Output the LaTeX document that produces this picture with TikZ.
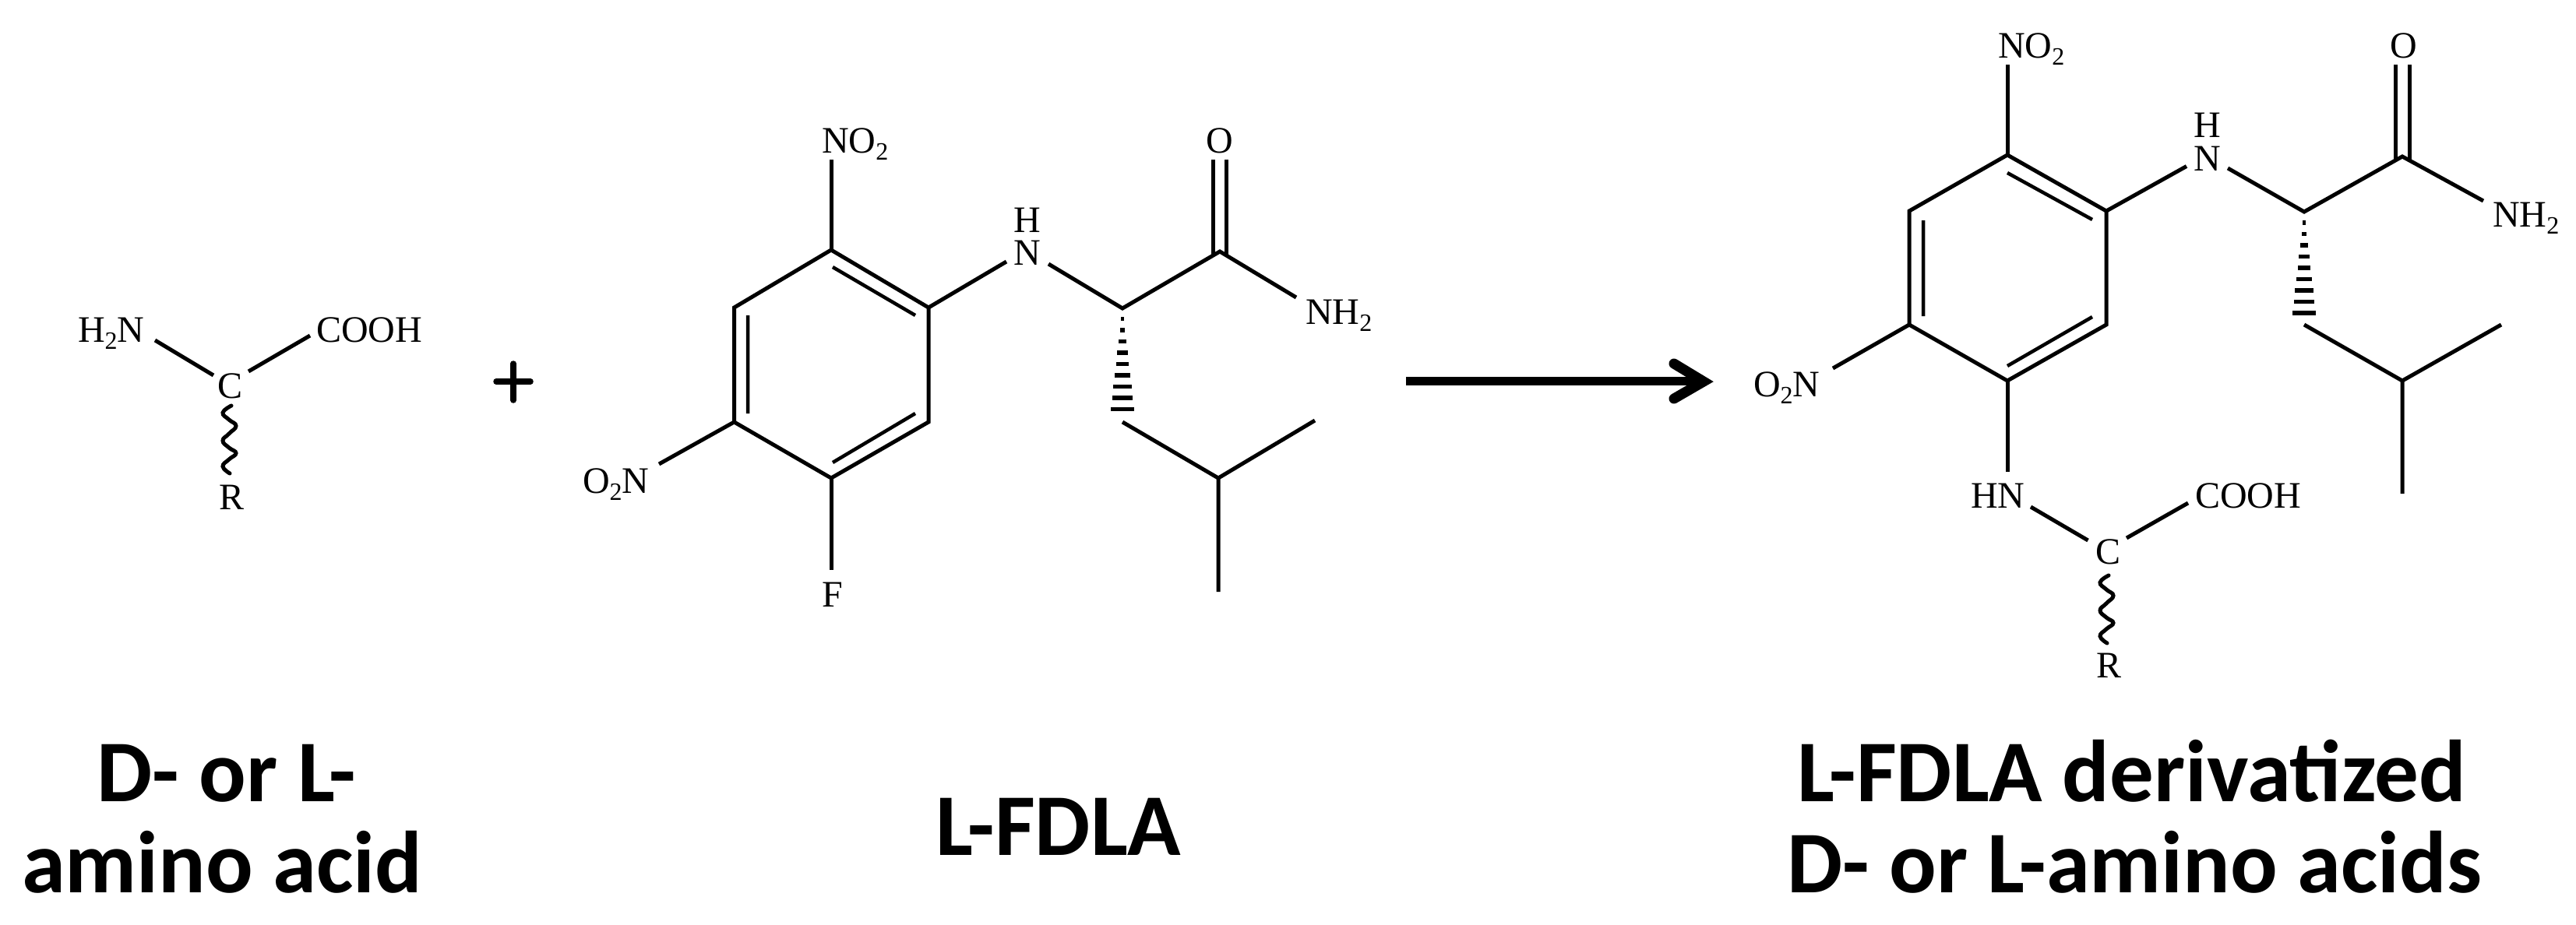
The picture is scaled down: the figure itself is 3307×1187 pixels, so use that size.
\documentclass[tikz,border=0pt]{standalone}
\usepackage{fontspec}
\setmainfont{Liberation Serif}
\newfontfamily\capfont{Carlito}
\newcommand{\sbb}[1]{\raisebox{-9pt}{\fontsize{32}{32}\selectfont #1}}
\newcommand{\wavybond}[2]{\begin{scope}[shift={(#1,#2)}]
\draw[bond,line cap=round] plot[smooth,tension=0.8] coordinates {(297,521)(286,530)(294,539)(303,547)(294,557)(286,566)(294,575)(303,582)(294,590)(286,599)(295,608)};
\end{scope}}
\newcommand{\hashbond}[5]{% apex x, apex y, first bar y, spacing, half-width slope
\foreach \i in {0,...,8}{
\pgfmathsetmacro{\yy}{#3+#4*\i}
\pgfmathsetmacro{\hw}{(\yy-#2)*#5}
\fill (#1-\hw,\yy-2.8) rectangle (#1+\hw,\yy+2.8);
}}
\tikzset{
 x=1pt,y=-1pt,
 bond/.style={line width=5pt,line cap=butt,line join=miter},
 thinbond/.style={line width=4.5pt,line cap=butt},
 chem/.style={inner sep=0pt,outer sep=0pt,font=\fontsize{48}{48}\selectfont},
 biglabel/.style={inner sep=0pt,outer sep=0pt,anchor=base,font=\capfont\bfseries\fontsize{113}{117}\selectfont},
}
\begin{document}
\begin{tikzpicture}
\useasboundingbox (0,0) rectangle (3307,1187);
% ---------- amino acid ----------
\node[chem,anchor=base west] (aN) at (100,439) {H\sbb{2}N};
\node[chem,anchor=base west] (aCOOH) at (406,439) {COOH};
\node[chem,anchor=base] (aC) at (296,511) {C};
\node[chem,anchor=base] (aR) at (298,654) {R};
\coordinate (a1) at (199,437); \coordinate (a2) at (274,482);
\coordinate (a3) at (319,477); \coordinate (a4) at (398,431);
\draw[bond] (a1) -- (a2);
\draw[bond] (a3) -- (a4);
\wavybond{0}{0}
% ---------- plus ----------
\coordinate (p1) at (637,490); \coordinate (p2) at (681,490);
\coordinate (p3) at (659,467); \coordinate (p4) at (659,514);
\draw[line width=7.5pt,line cap=round] (p1) -- (p2) (p3) -- (p4);
% ---------- L-FDLA ----------
\coordinate (r1) at (1067,321); \coordinate (r2) at (1192,395);
\coordinate (r3) at (1192,542); \coordinate (r4) at (1067,614);
\coordinate (r5) at (942.5,542); \coordinate (r6) at (942.5,395);
\draw[bond] (r1) -- (r2) -- (r3) -- (r4) -- (r5) -- (r6) -- cycle;
\coordinate (d1) at (1069,343); \coordinate (d2) at (1175,405);
\coordinate (d3) at (1175,531); \coordinate (d4) at (1069,594);
\coordinate (d5) at (960,405); \coordinate (d6) at (960,531);
\draw[thinbond] (d1) -- (d2) (d3) -- (d4) (d5) -- (d6);
\node[chem,anchor=base west] (fNO) at (1055,196) {NO\sbb{2}};
\node[chem,anchor=base west] (fON) at (748,633) {O\sbb{2}N};
\node[chem,anchor=base] (fF) at (1069,779) {F};
\node[chem,anchor=base] (fN) at (1319,340) {N};
\node[chem,anchor=base] (fH) at (1319,298) {H};
\node[chem,anchor=base] (fO) at (1566,196) {O};
\node[chem,anchor=base west] (fNH) at (1676,416) {NH\sbb{2}};
\coordinate (e1) at (1067,205); \coordinate (e2) at (846,596);
\coordinate (e3) at (1067,732); \coordinate (e4) at (1292,336);
\coordinate (e5) at (1346,339); \coordinate (c1) at (1441,396);
\coordinate (c2) at (1566,323); \coordinate (e6) at (1664,382);
\coordinate (c3) at (1441,542); \coordinate (c4) at (1564,614);
\coordinate (c5) at (1688,540); \coordinate (c6) at (1564,760);
\draw[bond] (r1) -- (e1);
\draw[bond] (r5) -- (e2);
\draw[bond] (r4) -- (e3);
\draw[bond] (r2) -- (e4);
\draw[bond] (e5) -- (c1) -- (c2) -- (e6);
\draw[bond] (1557,328) -- (1557,205) (1574,328) -- (1574,205);
\draw[bond] (c3) -- (c4) -- (c5) (c4) -- (c6);
\hashbond{1441}{396}{409.5}{14.5}{0.115}
% ---------- arrow ----------
\coordinate (s) at (1805,489); \coordinate (t) at (2180,489);
\coordinate (b1) at (2149,467); \coordinate (b2) at (2187,490); \coordinate (b3) at (2149,512);
\draw[line width=11pt] (s) -- (t);
\draw[line width=13pt,line cap=round,line join=miter] (b1) -- (b2) -- (b3);
% ---------- product ----------
\coordinate (R1) at (2577,199); \coordinate (R2) at (2704,271);
\coordinate (R3) at (2704,417); \coordinate (R4) at (2577,489);
\coordinate (R5) at (2451,417); \coordinate (R6) at (2451,271);
\draw[bond] (R1) -- (R2) -- (R3) -- (R4) -- (R5) -- (R6) -- cycle;
\coordinate (D1) at (2577,222); \coordinate (D2) at (2686,282);
\coordinate (D3) at (2686,407); \coordinate (D4) at (2577,470);
\coordinate (D5) at (2469,283); \coordinate (D6) at (2469,406);
\draw[thinbond] (D1) -- (D2) (D3) -- (D4) (D5) -- (D6);
\node[chem,anchor=base west] (pNO) at (2565,74) {NO\sbb{2}};
\node[chem,anchor=base west] (pON) at (2251,509) {O\sbb{2}N};
\node[chem,anchor=base] (pN) at (2833.5,219) {N};
\node[chem,anchor=base] (pH) at (2833.5,176) {H};
\node[chem,anchor=base] (pO) at (3086,74) {O};
\node[chem,anchor=base west] (pNH) at (3200,291) {NH\sbb{2}};
\node[chem,anchor=base west] (pHN) at (2530,652) {HN};
\node[chem,anchor=base west] (pCOOH) at (2818,652) {COOH};
\node[chem,anchor=base] (pC) at (2706,724) {C};
\node[chem,anchor=base] (pR) at (2707,870) {R};
\coordinate (E1) at (2577,82.5); \coordinate (E2) at (2353,473);
\coordinate (E3) at (2577,606); \coordinate (E4) at (2807,213.5);
\coordinate (E5) at (2860,216); \coordinate (C1) at (2958,272);
\coordinate (C2) at (3084,201); \coordinate (E6) at (3188,258);
\coordinate (C3) at (2958,417); \coordinate (C4) at (3084,489);
\coordinate (C5) at (3211,417); \coordinate (C6) at (3084,634);
\coordinate (F1) at (2607,651); \coordinate (F2) at (2680.5,694);
\coordinate (F3) at (2730,691); \coordinate (F4) at (2809,646);
\draw[bond] (R1) -- (E1);
\draw[bond] (R5) -- (E2);
\draw[bond] (R4) -- (E3);
\draw[bond] (R2) -- (E4);
\draw[bond] (E5) -- (C1) -- (C2) -- (E6);
\draw[bond] (3075.5,206) -- (3075.5,82.5) (3093,206) -- (3093,82.5);
\draw[bond] (C3) -- (C4) -- (C5) (C4) -- (C6);
\draw[bond] (F1) -- (F2);
\draw[bond] (F3) -- (F4);
\hashbond{2958}{272}{286}{14.5}{0.115}
\wavybond{2410}{218}
% ---------- captions ----------
\node[biglabel] (l1a) at (291,1029) {D- or L-};
\node[biglabel] (l1b) at (285,1146) {amino acid};
\node[biglabel] (l2) at (1359,1098) {L-FDLA};
\node[biglabel] (l3a) at (2737,1029) {L-FDLA derivatized};
\node[biglabel] (l3b) at (2740,1146) {D- or L-amino acids};
\end{tikzpicture}
\end{document}
